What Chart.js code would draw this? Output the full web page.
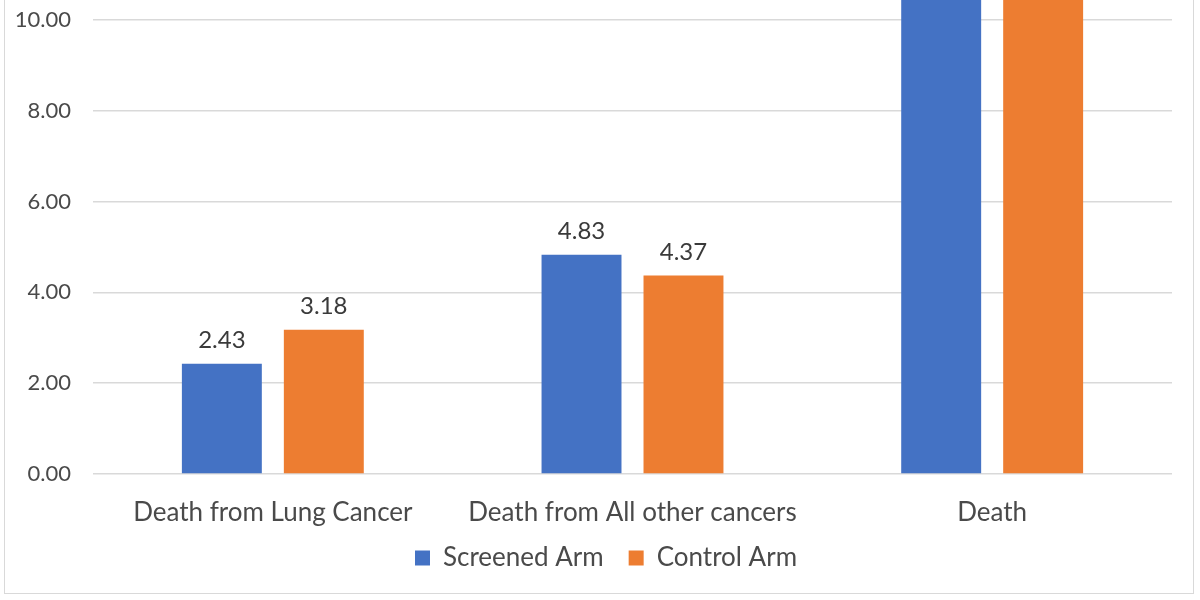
<!DOCTYPE html>
<html>
<head>
<meta charset="utf-8">
<script src="https://cdn.jsdelivr.net/npm/chart.js@4/dist/chart.umd.min.js"></script>
<style>
  body { margin: 0; background: #fff; }
  #wrap { position: relative; width: 1200px; height: 600px; overflow: hidden; }
  #frame {
    position: absolute; left: 4px; top: -20px; width: 1190px; height: 614px;
    box-sizing: border-box; border: 1px solid #d9d9d9; pointer-events: none;
  }
</style>
</head>
<body>
<div id="wrap">
  <canvas id="chart" width="1200" height="600"></canvas>
  <div id="frame"></div>
</div>
<script>
// Values (Death bars run past the top of the crop, estimated)
const categories = ['Death from Lung Cancer', 'Death from All other cancers', 'Death'];
const screenedArm = [2.43, 4.83, 13.9];
const controlArm = [3.18, 4.37, 13.8];
const yTicks = [0, 2, 4, 6, 8, 10];

const FONT = 'Lato, "Open Sans", sans-serif';
const TEXT = '#4a4a4a';

// Excel-style value labels above each bar
const valueLabels = {
    id: 'valueLabels',
    afterDatasetsDraw(chart) {
        const ctx = chart.ctx;
        ctx.save();
        ctx.font = '24px ' + FONT;
        ctx.fillStyle = '#3a3a3a';
        ctx.textAlign = 'center';
        ctx.textBaseline = 'alphabetic';
        chart.data.datasets.forEach((ds, i) => {
            chart.getDatasetMeta(i).data.forEach((bar, j) => {
                ctx.fillText(ds.data[j].toFixed(2), bar.x, bar.y - 16);
            });
        });
        ctx.restore();
    }
};

// nudge the legend a bit up and right, like the Excel layout
const legendNudge = {
    id: 'legendNudge',
    afterLayout(chart) {
        const lg = chart.legend;
        lg.top -= 14;
        lg.bottom -= 14;
        lg.left += 20;
        lg.right += 20;
    }
};

new Chart(document.getElementById('chart'), {
    type: 'bar',
    data: {
        labels: categories,
        datasets: [
            {
                label: 'Screened Arm',
                data: screenedArm,
                backgroundColor: '#4472C4',
                clip: false,
                categoryPercentage: 0.567,
                barPercentage: 0.784
            },
            {
                label: 'Control Arm',
                data: controlArm,
                backgroundColor: '#ED7D31',
                clip: false,
                categoryPercentage: 0.567,
                barPercentage: 0.784
            }
        ]
    },
    options: {
        responsive: false,
        animation: false,
        layout: { padding: { top: 20, right: 28, left: 0, bottom: 5 } },
        plugins: {
            legend: {
                position: 'bottom',
                labels: {
                    boxWidth: 15,
                    boxHeight: 15,
                    padding: 25,
                    color: TEXT,
                    font: { family: FONT, size: 26 }
                }
            },
            tooltip: { enabled: false }
        },
        scales: {
            y: {
                min: 0,
                max: 10,
                afterBuildTicks: (scale) => {
                    scale.ticks = yTicks.map(v => ({ value: v }));
                },
                afterFit: (scale) => {
                    scale.width = 93;
                    scale.paddingTop = 0;
                    scale.paddingBottom = 0;
                },
                border: { display: false },
                grid: { color: '#d9d9d9', lineWidth: 1.5, drawTicks: false },
                ticks: {
                    padding: 22,
                    color: TEXT,
                    font: { family: FONT, size: 22 },
                    callback: (v) => Number(v).toFixed(2)
                }
            },
            x: {
                afterFit: (scale) => { scale.height = 60; },
                border: { display: false },
                grid: { display: false, drawTicks: false },
                ticks: {
                    padding: 23,
                    color: TEXT,
                    font: { family: FONT, size: 26 }
                }
            }
        }
    },
    plugins: [valueLabels, legendNudge]
});
</script>
</body>
</html>
